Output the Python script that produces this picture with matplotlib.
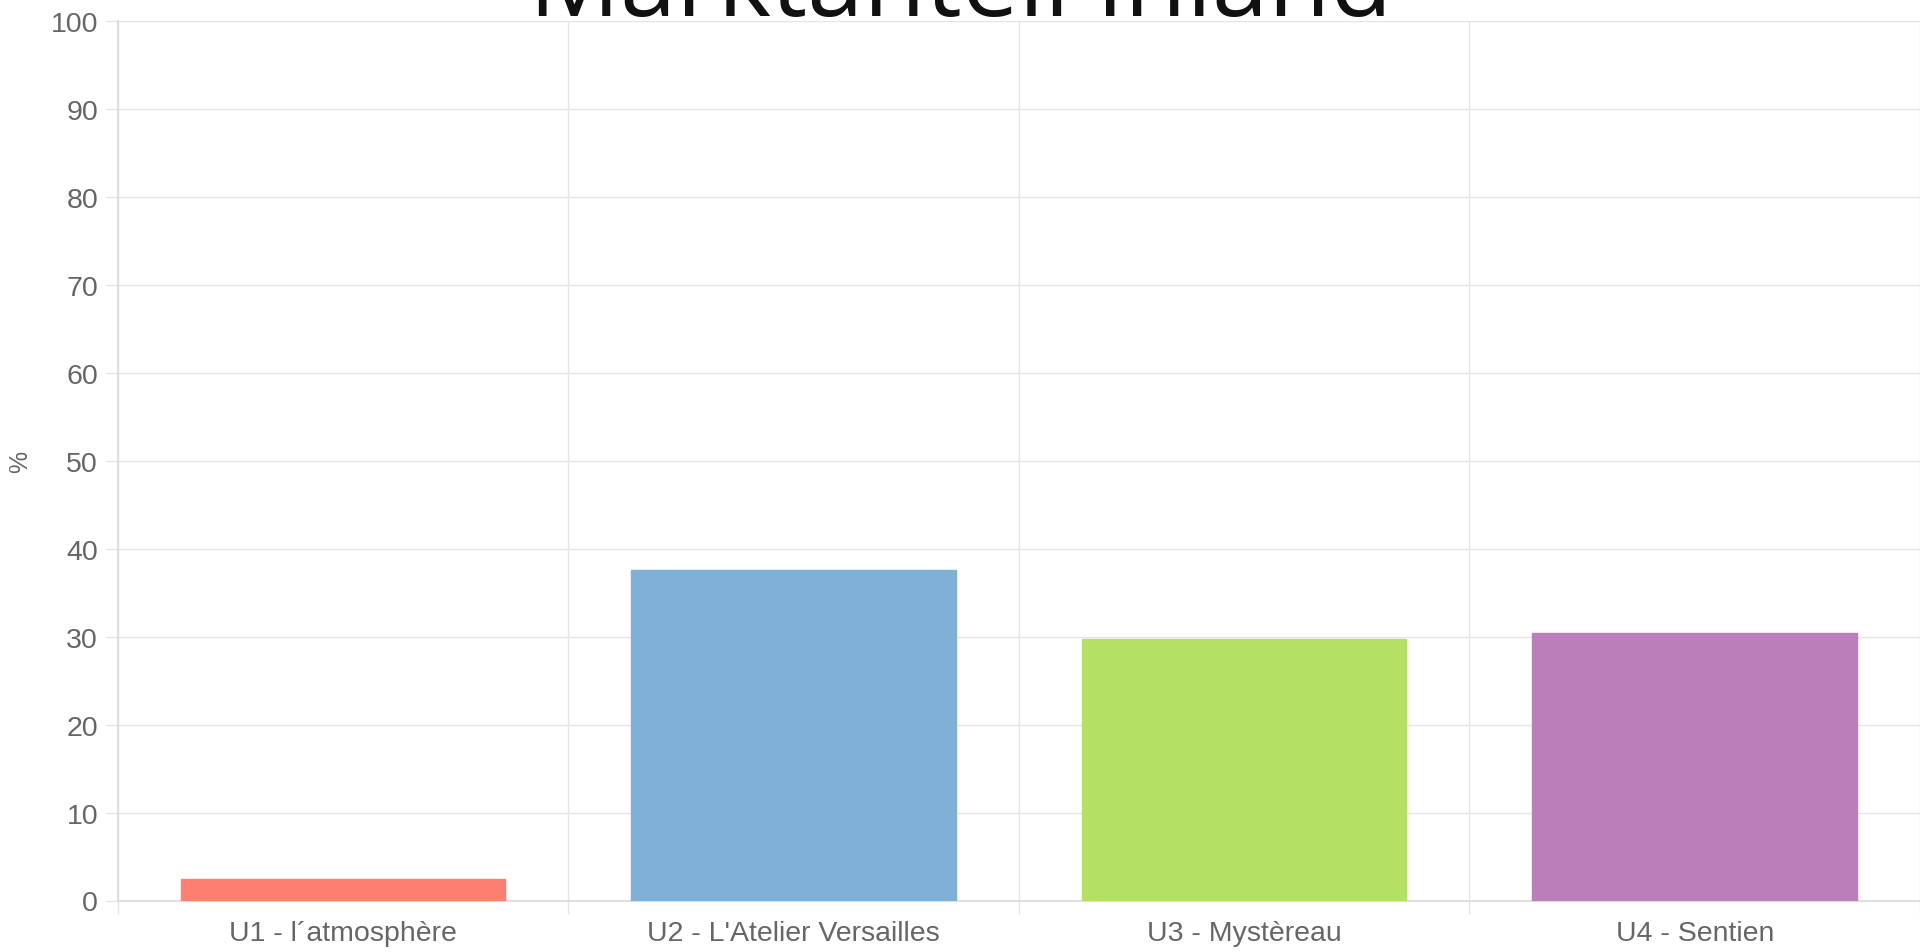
import matplotlib
matplotlib.use("Agg")
import matplotlib.pyplot as plt

categories = ["U1 - l´atmosphère", "U2 - L'Atelier Versailles", "U3 - Mystèreau", "U4 - Sentien"]
values = [2.4, 37.6, 29.7, 30.4]
colors = ["#fe7f6f", "#7fb0d5", "#b3e164", "#bc7ebb"]
yticks = list(range(0, 101, 10))
title = "Marktanteil Inland"
ylabel = "%"

W, H = 1920, 953
fig = plt.figure(figsize=(W / 100, H / 100), dpi=100)
left, right, top, bottom = 117.5, 1920, 22, 901.5
ax = fig.add_axes([left / W, (H - bottom) / H, (right - left) / W, (bottom - top) / H])

grid_c = "#e5e5e5"
tick_c = "#666666"
font = ["Liberation Sans", "DejaVu Sans"]

x = list(range(len(categories)))
ax.bar(x, values, width=0.72, color=colors, edgecolor=colors, linewidth=1, zorder=3)

ax.set_xlim(-0.5, len(categories) - 0.5)
ax.set_ylim(0, 100)
ax.set_yticks(yticks)
ax.set_yticklabels([str(v) for v in yticks], fontsize=20.5, color=tick_c, family=font)
ax.set_xticks(x)
ax.set_xticklabels(categories, fontsize=20.5, color=tick_c, family=font)
ax.set_xticks([i - 0.5 for i in range(len(categories) + 1)], minor=True)

ax.tick_params(axis="x", which="major", length=0, pad=14)
ax.tick_params(axis="x", which="minor", length=9, width=1, color=grid_c)
ax.tick_params(axis="y", which="major", length=9, width=1, color=grid_c, pad=5)

ax.grid(True, axis="y", which="major", color=grid_c, linewidth=1, zorder=0)
ax.grid(True, axis="x", which="minor", color=grid_c, linewidth=1, zorder=0)
ax.grid(False, axis="x", which="major")

for s in ["top", "right"]:
    ax.spines[s].set_visible(False)
for s in ["left", "bottom"]:
    ax.spines[s].set_color("#d9d9d9")
    ax.spines[s].set_linewidth(1.2)

fig.text(20 / W, 1 - 462 / H, ylabel, rotation=90, ha="center", va="center",
         fontsize=18, color=tick_c, family=font)
fig.text(961 / W, 1 - 16 / H, title, ha="center", va="baseline",
         fontsize=73, color="#111111", family=["Open Sans", "DejaVu Sans"])

fig.savefig("out.png", dpi=100)
